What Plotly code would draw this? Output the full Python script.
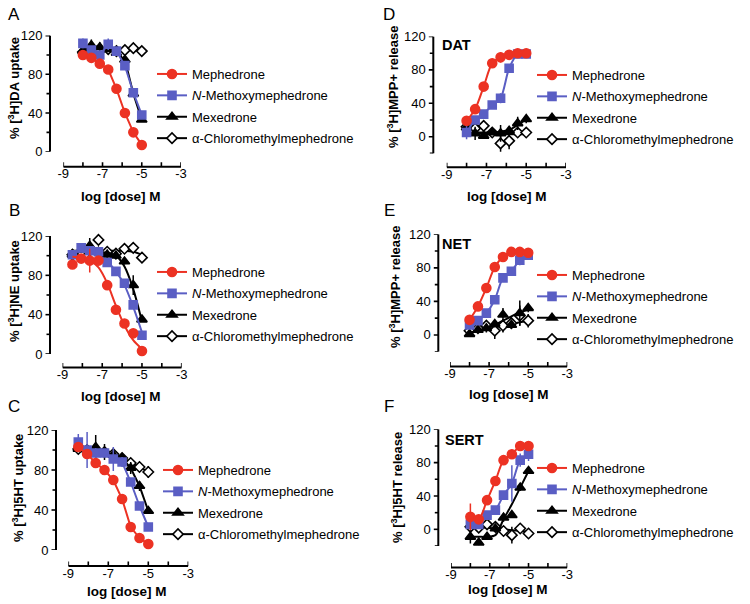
import plotly.graph_objects as go

# ---------------- data ----------------
DOSE8 = [-8.0, -7.57, -7.14, -6.71, -6.29, -5.86, -5.43, -5.0]
DOSE9 = [-8.5, -8.06, -7.63, -7.19, -6.75, -6.31, -5.88, -5.44, -5.0]

NAMES = ["Mephedrone", "<i>N</i>-Methoxymephedrone", "Mexedrone", "α-Chloromethylmephedrone"]

X_MAJOR = [-9, -7, -5, -3]
X_MAJOR_TEXT = ["-9", "-7", "-5", "-3"]
X_MINOR = [-8, -6, -4]
Y_MAJOR = [0, 40, 80, 120]
Y_MINOR = [-20, 20, 60, 100]

# Panel A  (DA uptake)
A_MEPH = [100, 97, 91, 85, 65, 40, 20, 7]
A_MEPH_ERR = [3, 2, 2, 2, 2, 2, 2, 2]
A_NMET = [112, 105, 100, 111, 104, 89, 61, 38]
A_NMET_ERR = [5, 3, 3, 6, 2, 3, 2, 3]
A_MEX = [104, 110, 108, 106, 102, 95, 60, 33]
A_MEX_ERR = [3, 6, 5, 2, 2, 2, 2, 2]
A_ACM = [103, 105, 104, 106, 104, 105, 107, 104]
A_ACM_ERR = [2, 2, 2, 2, 2, 2, 2, 4]

# Panel B  (NE uptake)
B_MEPH = [91, 97, 95, 95, 70, 45, 31, 21, 3]
B_MEPH_ERR = [3, 3, 12, 3, 2, 2, 4, 2, 2]
B_MEPH_FIT = [99, 98, 95, 88, 72, 49, 29, 14, 5]
B_NMET = [101, 108, 105, 104, 93, 84, 72, 50, 19]
B_NMET_ERR = [3, 4, 3, 3, 3, 3, 3, 3, 2]
B_NMET_FIT = [104, 104, 103, 100, 94, 84, 70, 48, 22]
B_MEX = [101, 106, 110, 104, 101, 100, 94, 70, 35]
B_MEX_ERR = [3, 3, 8, 3, 3, 3, 3, 10, 2]
B_MEX_FIT = [105, 105, 105, 104, 103, 100, 89, 66, 33]
B_ACM = [101, 104, 105, 116, 104, 102, 107, 108, 98]
B_ACM_ERR = [2, 2, 2, 4, 2, 2, 2, 2, 4]
B_ACM_FIT = [104, 104, 104, 105, 105, 105, 105, 104, 101]

# Panel C  (5HT uptake)
C_MEPH = [103, 96, 87, 80, 70, 51, 23, 12, 6]
C_MEPH_ERR = [4, 3, 3, 3, 2, 2, 2, 2, 2]
C_NMET = [108, 100, 97, 97, 91, 88, 68, 44, 23]
C_NMET_ERR = [8, 18, 5, 4, 12, 5, 4, 4, 3]
C_MEX = [101, 100, 103, 98, 95, 92, 82, 64, 39]
C_MEX_ERR = [3, 4, 12, 8, 5, 4, 6, 5, 3]
C_ACM = [101, 100, 100, 98, 96, 92, 87, 83, 78]
C_ACM_ERR = [2, 2, 2, 2, 2, 2, 3, 3, 6]

# Panel D  (DAT release)
D_MEPH = [19, 33, 60, 88, 95, 98, 100, 100]
D_MEPH_ERR = [3, 2, 2, 2, 6, 2, 2, 2]
D_NMET = [5, 20, 27, 38, 46, 82, 99, 99]
D_NMET_ERR = [8, 3, 3, 3, 6, 3, 3, 3]
D_MEX = [11, 4, 1, 5, 4, 7, 16, 21]
D_MEX_ERR = [5, 8, 3, 2, 10, 3, 8, 5]
D_MEX_FIT = [5, 5, 5, 5, 6, 8, 14, 21]
D_ACM = [12, 10, 13, 5, -8, -5, 5, 5]
D_ACM_ERR = [3, 3, 4, 3, 10, 10, 4, 4]
D_ACM_FIT = [4, 4, 4, 3, 3, 3, 3, 3]

# Panel E  (NET release)
E_MEPH = [18, 34, 56, 81, 93, 99, 99, 98]
E_MEPH_ERR = [2, 2, 2, 2, 2, 2, 2, 2]
E_NMET = [12, 17, 26, 42, 68, 76, 89, 95]
E_NMET_ERR = [2, 3, 2, 3, 4, 4, 6, 3]
E_MEX = [1, 6, 8, 13, 24, 12, 26, 32]
E_MEX_ERR = [2, 3, 5, 4, 8, 4, 15, 5]
E_MEX_FIT = [3, 5, 8, 12, 17, 22, 27, 30]
E_ACM = [5, 8, 11, 5, 11, 14, 23, 17]
E_ACM_ERR = [2, 2, 4, 10, 8, 5, 12, 8]
E_ACM_FIT = [5, 6, 7, 9, 11, 13, 15, 17]

# Panel F  (SERT release)
F_MEPH = [15, 12, 35, 58, 83, 90, 100, 100]
F_MEPH_ERR = [16, 5, 5, 4, 3, 3, 2, 2]
F_NMET = [6, 6, 17, 23, 41, 55, 83, 90]
F_NMET_ERR = [4, 3, 4, 4, 5, 22, 8, 8]
F_MEX = [-9, -16, -9, 1, 14, 17, 50, 70]
F_MEX_ERR = [8, 3, 3, 3, 5, 3, 4, 3]
F_MEX_FIT = [-9, -9, -9, -7, 12, 30, 50, 70]
F_ACM = [3, 2, 6, 3, -2, -7, 1, -5]
F_ACM_ERR = [3, 3, 3, 3, 3, 10, 4, 3]
F_ACM_FIT = [2, 2, 2, 1, 0, -1, -2, -3]

# ---------------- styles ----------------
RED = "#ec3223"
BLUE = "#5a5ec4"
BLACK = "#000000"
FONT = "Liberation Sans, Arial, Helvetica, sans-serif"

STYLES = [
    dict(color=RED, symbol="circle", size=9, fill=RED),
    dict(color=BLUE, symbol="square", size=8, fill=BLUE),
    dict(color=BLACK, symbol="triangle-up", size=9, fill=BLACK),
    dict(color=BLACK, symbol="diamond", size=8, fill="white"),
]

W, H = 750, 604
def PX(x):
    return x / W
def PY(y):
    return 1 - y / H

# panel geometry (pixel coordinates): xd = pixels of x=-9 / x=-3,
# yd = pixels of y=ymin / y=120, yline = y-axis line x, xline = x-axis line y
PANELS = [
    dict(key="A", dose=DOSE8, ymin=0,
         series=[(A_MEPH, A_MEPH_ERR, None), (A_NMET, A_NMET_ERR, None),
                 (A_MEX, A_MEX_ERR, None), (A_ACM, A_ACM_ERR, None)],
         xd=(63.3, 181.0), yd=(151.7, 35.6), yline=50.0, xline=166.7,
         leg=(191, 74), ytitle="% [<sup>3</sup>H]DA uptake", ytpos=(14, 88),
         xtpos=(121, 196), letter=(14, 14), tag=None, spline=False),
    dict(key="B", dose=DOSE9, ymin=0,
         series=[(B_MEPH, B_MEPH_ERR, B_MEPH_FIT), (B_NMET, B_NMET_ERR, B_NMET_FIT),
                 (B_MEX, B_MEX_ERR, B_MEX_FIT), (B_ACM, B_ACM_ERR, B_ACM_FIT)],
         xd=(62.5, 181.7), yd=(354.0, 236.0), yline=50.0, xline=367.5,
         leg=(191, 272), ytitle="% [<sup>3</sup>H]NE uptake", ytpos=(14, 291),
         xtpos=(121, 396), letter=(14, 210), tag=None, spline=True),
    dict(key="C", dose=DOSE9, ymin=0,
         series=[(C_MEPH, C_MEPH_ERR, None), (C_NMET, C_NMET_ERR, None),
                 (C_MEX, C_MEX_ERR, None), (C_ACM, C_ACM_ERR, None)],
         xd=(68.3, 188.3), yd=(550.0, 430.0), yline=56.0, xline=566.0,
         leg=(197, 470), ytitle="% [<sup>3</sup>H]5HT uptake", ytpos=(18, 488),
         xtpos=(127, 591), letter=(14, 406), tag=None, spline=False),
    dict(key="D", dose=DOSE8, ymin=-20,
         series=[(D_MEPH, D_MEPH_ERR, None), (D_NMET, D_NMET_ERR, None),
                 (D_MEX, D_MEX_ERR, D_MEX_FIT), (D_ACM, D_ACM_ERR, D_ACM_FIT)],
         xd=(446.7, 566.0), yd=(153.4, 36.5), yline=433.3, xline=167.3,
         leg=(571, 75), ytitle="% [<sup>3</sup>H]MPP+ release", ytpos=(393, 87),
         xtpos=(507, 196), letter=(389, 14), tag=("DAT", 457, 45), spline=True),
    dict(key="E", dose=DOSE8, ymin=-20,
         series=[(E_MEPH, E_MEPH_ERR, None), (E_NMET, E_NMET_ERR, None),
                 (E_MEX, E_MEX_ERR, E_MEX_FIT), (E_ACM, E_ACM_ERR, E_ACM_FIT)],
         xd=(450.0, 567.3), yd=(351.7, 234.3), yline=438.3, xline=366.5,
         leg=(571, 275), ytitle="% [<sup>3</sup>H]MPP+ release", ytpos=(395, 287),
         xtpos=(509, 394), letter=(389, 210), tag=("NET", 457, 244), spline=True),
    dict(key="F", dose=DOSE8, ymin=-20,
         series=[(F_MEPH, F_MEPH_ERR, None), (F_NMET, F_NMET_ERR, None),
                 (F_MEX, F_MEX_ERR, F_MEX_FIT), (F_ACM, F_ACM_ERR, F_ACM_FIT)],
         xd=(451.0, 567.3), yd=(546.0, 429.3), yline=438.3, xline=567.5,
         leg=(571, 468), ytitle="% [<sup>3</sup>H]5HT release", ytpos=(397, 488),
         xtpos=(508, 589), letter=(389, 406), tag=("SERT", 464, 440), spline=True),
]

AXIS_W = 2.0
YTICK_MAJOR_LEN = 4.5
YTICK_MINOR_LEN = 3.5
XTICK_LEN = 4.5
XLABEL_SHIFT = 6  # x tick labels sit closer to the line than Plotly's default

fig = go.Figure()
layout = dict(
    width=W, height=H, margin=dict(l=0, r=0, t=0, b=0, autoexpand=False),
    paper_bgcolor="white", plot_bgcolor="rgba(0,0,0,0)",
    showlegend=True, font=dict(family=FONT, color="black", size=13),
)
annotations = []
shapes = []
NP = len(PANELS)

def ax_names(n):
    return ("x" if n == 1 else f"x{n}", "y" if n == 1 else f"y{n}",
            "xaxis" if n == 1 else f"xaxis{n}", "yaxis" if n == 1 else f"yaxis{n}")

for i, p in enumerate(PANELS):
    n = i + 1
    h = n + NP  # helper axes index
    xa, ya, xkey, ykey = ax_names(n)
    hxa, hya, hxkey, hykey = ax_names(h)
    lkey = "legend" if n == 1 else f"legend{n}"

    # data axes (labels only; the Prism-style offset lines are drawn as shapes)
    layout[xkey] = dict(
        domain=[PX(p["xd"][0]), PX(p["xd"][1])], range=[-9, -3],
        anchor=hya, side="bottom", showline=False,
        ticks="outside", ticklen=1, tickcolor="rgba(0,0,0,0)",
        tickmode="array", tickvals=X_MAJOR, ticktext=X_MAJOR_TEXT,
        showgrid=False, zeroline=False, tickfont=dict(size=13), fixedrange=True,
    )
    layout[ykey] = dict(
        domain=[PY(p["yd"][0]), PY(p["yd"][1])], range=[p["ymin"], 120],
        anchor=hxa, side="left", showline=False,
        ticks="outside", ticklen=4, tickcolor="rgba(0,0,0,0)",
        tickmode="array", tickvals=Y_MAJOR,
        showgrid=False, zeroline=False, tickfont=dict(size=13), fixedrange=True,
    )
    # helper axes (invisible): their domain edges give the axis-label positions
    layout[hxkey] = dict(domain=[PX(p["yline"]), PX(p["yline"] + 20)], anchor=ya,
                         visible=False, range=[0, 1], fixedrange=True)
    lab_y = p["xline"] - XLABEL_SHIFT
    layout[hykey] = dict(domain=[PY(lab_y), PY(lab_y - 5)], anchor=xa,
                         visible=False, range=[0, 1], fixedrange=True)
    fig.add_trace(go.Scatter(x=[None], y=[None], xaxis=xa, yaxis=hya,
                             showlegend=False, hoverinfo="skip"))
    fig.add_trace(go.Scatter(x=[None], y=[None], xaxis=hxa, yaxis=ya,
                             showlegend=False, hoverinfo="skip"))

    # axis lines and ticks
    ln = dict(color="black", width=AXIS_W)
    tk = dict(color="black", width=1.6)
    yl = PX(p["yline"])
    shapes.append(dict(type="line", xref="paper", yref=ya, x0=yl, x1=yl,
                       y0=p["ymin"], y1=120, line=ln))
    for v in Y_MAJOR:
        shapes.append(dict(type="line", xref="paper", yref=ya, x0=yl,
                           x1=PX(p["yline"] - YTICK_MAJOR_LEN), y0=v, y1=v, line=tk))
    for v in Y_MINOR:
        if v >= p["ymin"]:
            shapes.append(dict(type="line", xref="paper", yref=ya, x0=yl,
                               x1=PX(p["yline"] - YTICK_MINOR_LEN), y0=v, y1=v, line=tk))
    xl = PY(p["xline"])
    shapes.append(dict(type="line", xref=xa, yref="paper", x0=-9, x1=-3,
                       y0=xl, y1=xl, line=ln))
    for v in X_MAJOR + X_MINOR:
        shapes.append(dict(type="line", xref=xa, yref="paper", x0=v, x1=v,
                           y0=xl, y1=PY(p["xline"] - XTICK_LEN), line=tk))

    layout[lkey] = dict(
        x=PX(p["leg"][0] - 39), y=PY(p["leg"][1] - 15), xanchor="left", yanchor="top",
        bgcolor="rgba(0,0,0,0)", font=dict(size=13, family=FONT), tracegroupgap=1.5,
        itemclick=False, itemdoubleclick=False,
    )

    # draw order: diamonds, triangles, squares, circles (circles on top)
    for s in [3, 2, 1, 0]:
        pts, err, fit = p["series"][s]
        st = STYLES[s]
        line_y = fit if fit is not None else pts
        fig.add_trace(go.Scatter(
            x=p["dose"], y=line_y, xaxis=xa, yaxis=ya, mode="lines",
            line=dict(color=st["color"], width=2, shape="spline" if p["spline"] else "linear",
                      smoothing=0.8),
            showlegend=False, hoverinfo="skip", cliponaxis=False,
        ))
        fig.add_trace(go.Scatter(
            x=p["dose"], y=pts, xaxis=xa, yaxis=ya, mode="markers",
            marker=dict(symbol=st["symbol"], size=st["size"], color=st["fill"],
                        line=dict(color=st["color"], width=1.6)),
            error_y=dict(type="data", array=err, visible=True, color=st["color"],
                         thickness=1.5, width=0),
            showlegend=False, cliponaxis=False,
        ))
    # legend entries
    for s in range(4):
        st = STYLES[s]
        fig.add_trace(go.Scatter(
            x=[None], y=[None], xaxis=xa, yaxis=ya, mode="lines+markers", name=NAMES[s],
            legend=lkey, legendgroup=f"{p['key']}{s}", legendrank=s + 1,
            line=dict(color=st["color"], width=2),
            marker=dict(symbol=st["symbol"], size=st["size"], color=st["fill"],
                        line=dict(color=st["color"], width=1.6)),
        ))

    annotations.append(dict(
        x=PX(p["ytpos"][0]), y=PY(p["ytpos"][1]), xref="paper", yref="paper",
        text=f"<b>{p['ytitle']}</b>", textangle=-90, showarrow=False,
        font=dict(size=13, family=FONT), xanchor="center", yanchor="middle",
    ))
    annotations.append(dict(
        x=PX(p["xtpos"][0]), y=PY(p["xtpos"][1]), xref="paper", yref="paper",
        text="<b>log [dose] M</b>", showarrow=False,
        font=dict(size=13.5, family=FONT), xanchor="center", yanchor="middle",
    ))
    annotations.append(dict(
        x=PX(p["letter"][0]), y=PY(p["letter"][1]), xref="paper", yref="paper",
        text=p["key"], showarrow=False, font=dict(size=17, family=FONT),
        xanchor="center", yanchor="middle",
    ))
    if p["tag"] is not None:
        annotations.append(dict(
            x=PX(p["tag"][1]), y=PY(p["tag"][2]), xref="paper", yref="paper",
            text=f"<b>{p['tag'][0]}</b>", showarrow=False, font=dict(size=14.5, family=FONT),
            xanchor="center", yanchor="middle",
        ))

layout["annotations"] = annotations
layout["shapes"] = shapes
fig.update_layout(**layout)
fig.write_html(
    "out.html",
    config={"displayModeBar": False},
    post_script="document.body.style.margin='0';document.body.style.padding='0';",
)
